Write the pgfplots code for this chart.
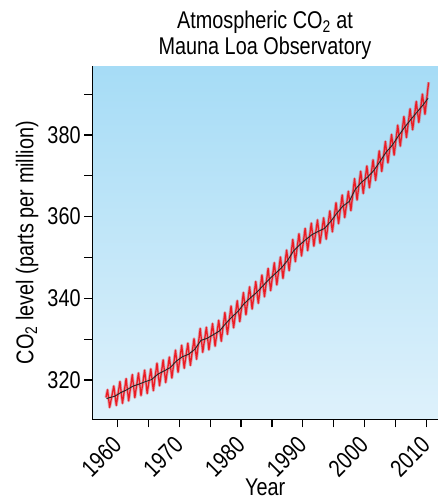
\documentclass[border=0pt]{standalone}
\usepackage{pgfplots}
\pgfplotsset{compat=1.18}
\usepackage{fontspec}
\setmainfont{Liberation Sans}[FakeStretch=0.82]
\definecolor{bgtop}{RGB}{166,220,246}
\definecolor{bgbot}{RGB}{222,241,251}
\definecolor{co2red}{RGB}{236,28,36}
\pgfplotstableread{
x y
1958.12 315.7
1958.37 317.6
1958.71 313.3
1959.38 318.5
1959.79 313.8
1960.38 319.6
1960.79 314.3
1961.38 320.3
1961.79 314.9
1962.38 321.3
1962.79 315.7
1963.38 321.7
1963.79 316.2
1964.38 322.4
1964.79 316.7
1965.38 322.7
1965.79 317.4
1966.38 324.1
1966.79 318.6
1967.38 324.9
1967.79 319.4
1968.38 325.6
1968.79 320.5
1969.38 327.3
1969.79 321.9
1970.38 328.5
1970.79 322.9
1971.38 329.0
1971.79 323.6
1972.38 330.1
1972.79 325.1
1973.38 332.6
1973.79 326.8
1974.38 332.9
1974.79 327.4
1975.38 333.8
1975.79 328.3
1976.38 334.6
1976.79 329.5
1977.38 336.5
1977.79 331.2
1978.38 338.1
1978.79 332.8
1979.38 339.4
1979.79 334.3
1980.38 341.4
1980.79 336.0
1981.38 342.8
1981.79 337.4
1982.38 344.1
1982.79 338.8
1983.38 345.7
1983.79 340.4
1984.38 347.3
1984.79 341.9
1985.38 348.7
1985.79 343.3
1986.38 350.1
1986.79 344.9
1987.38 351.8
1987.79 346.8
1988.38 354.4
1988.79 349.0
1989.38 355.8
1989.79 350.4
1990.38 357.1
1990.79 351.7
1991.38 358.4
1991.79 352.8
1992.38 359.2
1992.79 353.5
1993.38 359.7
1993.79 354.5
1994.38 361.4
1994.79 356.3
1995.38 363.4
1995.79 358.3
1996.38 365.3
1996.79 359.8
1997.38 366.2
1997.79 361.5
1998.38 369.3
1998.79 364.1
1999.38 371.1
1999.79 365.7
2000.38 372.4
2000.79 367.1
2001.38 373.9
2001.79 368.9
2002.38 376.1
2002.79 371.1
2003.38 378.4
2003.79 373.2
2004.38 380.1
2004.79 375.1
2005.38 382.4
2005.79 377.3
2006.38 384.5
2006.79 379.4
2007.38 386.4
2007.79 381.3
2008.38 388.2
2008.79 383.1
2009.38 390.0
2009.79 385.1
2010.38 392.9
}\monthly
\pgfplotstableread{
x y
1958.2 315.4
1958.5 315.6
1959.5 316.0
1960.5 316.9
1961.5 317.6
1962.5 318.5
1963.5 319.0
1964.5 319.6
1965.5 320.1
1966.5 321.4
1967.5 322.2
1968.5 323.0
1969.5 324.6
1970.5 325.7
1971.5 326.3
1972.5 327.5
1973.5 329.7
1974.5 330.2
1975.5 331.1
1976.5 332.0
1977.5 333.8
1978.5 335.4
1979.5 336.8
1980.5 338.7
1981.5 340.1
1982.5 341.4
1983.5 343.0
1984.5 344.6
1985.5 346.0
1986.5 347.4
1987.5 349.2
1988.5 351.6
1989.5 353.1
1990.5 354.4
1991.5 355.6
1992.5 356.4
1993.5 357.1
1994.5 358.8
1995.5 360.8
1996.5 362.6
1997.5 363.7
1998.5 366.7
1999.5 368.4
2000.5 369.7
2001.5 371.3
2002.5 373.5
2003.5 375.8
2004.5 377.5
2005.5 379.8
2006.5 381.9
2007.5 383.8
2008.5 385.6
2009.5 387.4
2010.3 389.0
}\annual
\begin{document}
\fontsize{24.2}{26}\selectfont
\begin{tikzpicture}[x=1pt,y=1pt]
\useasboundingbox (0,0) rectangle (439,499);
\begin{axis}[
  at={(92.3pt,79.7pt)}, anchor=south west,
  scale only axis, width=345.7pt, height=353.3pt,
  xmin=1955.9, xmax=2011.9, ymin=310.37, ymax=396.9,
  axis lines=left,
  axis line style={-, line width=1.2pt, black},
  axis background/.style={top color=bgtop, bottom color=bgbot, draw=none},
  xtick={1960,1970,...,2010},
  minor xtick={1965,1975,...,2005},
  ytick={320,340,...,380},
  minor ytick={330,350,...,390},
  tick align=outside,
  major tick length=8pt, minor tick length=8pt,
  tick style={line width=1.2pt, black},
  /pgf/number format/assume math mode=true,
  xticklabel={\pgfmathprintnumber[1000 sep={}]{\tick}},
  yticklabel={\pgfmathprintnumber{\tick}},
  ticklabel style={font=\fontsize{24.2}{26}\selectfont},
  xticklabel style={rotate=45, anchor=east, inner sep=0pt, xshift=-9.9pt, yshift=-9.2pt},
  yticklabel style={anchor=east, inner sep=0pt, xshift=-3.5pt},
  xlabel={Year},
  xlabel style={at={(rel axis cs:0.5,0)}, anchor=base, inner sep=0pt, yshift=-76pt, font=\fontsize{24.2}{26}\selectfont},
  ylabel={CO\textsubscript{2} level (parts per million)},
  ylabel style={at={(axis description cs:-0.1707,0.5)}, anchor=base, inner sep=0pt, font=\fontsize{24.2}{26}\selectfont},
  clip=true,
]
\addplot[co2red, opacity=0.35, line width=3pt, line join=round] table {\monthly};
\addplot[co2red, line width=1.3pt, line join=round] table {\monthly};
\addplot[black!85, line width=0.9pt, line join=round] table {\annual};
\end{axis}
\node[anchor=base] at (265,470) {Atmospheric CO\textsubscript{2} at};
\node[anchor=base] at (265,444) {Mauna Loa Observatory};
\end{tikzpicture}
\end{document}
